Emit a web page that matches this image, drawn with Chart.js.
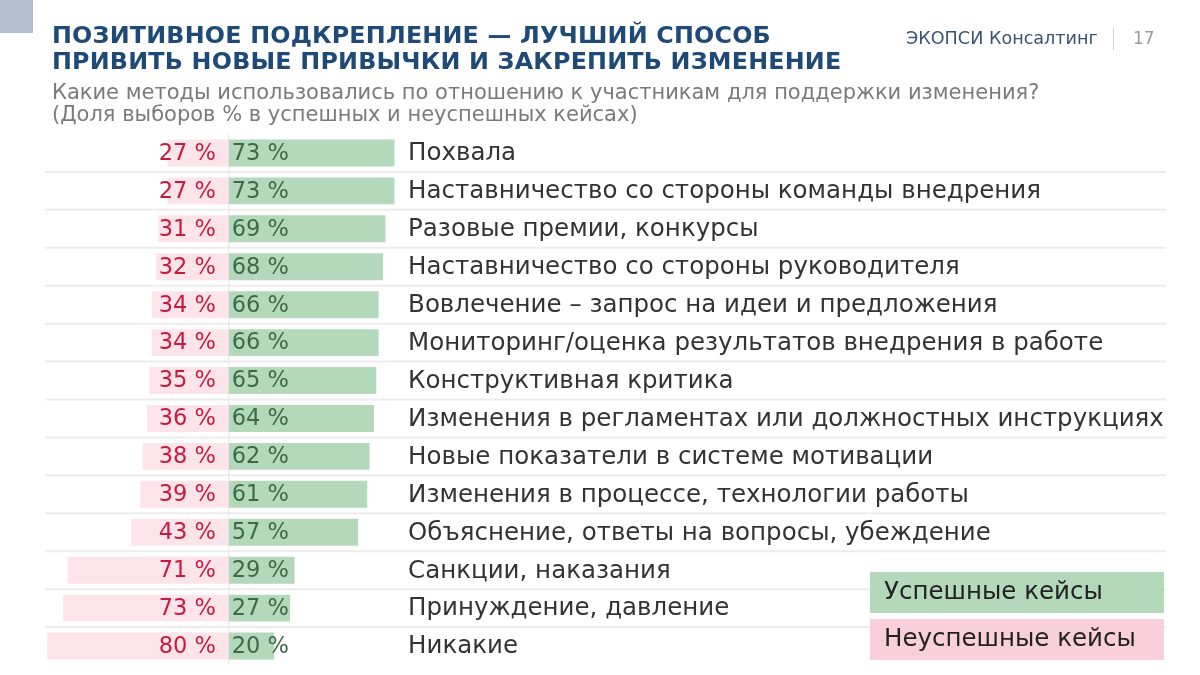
<!DOCTYPE html>
<html lang="ru">
<head>
<meta charset="UTF-8">
<title>Позитивное подкрепление</title>
<script src="https://cdn.jsdelivr.net/npm/chart.js"></script>
<style>
  body { margin: 0; background: #fff; font-family: "DejaVu Sans", sans-serif; }
  #wrap { position: relative; width: 1200px; height: 675px; overflow: hidden; }
  #chart { position: absolute; left: 0; top: 0; }
  .corner { position: absolute; left: 0; top: 0; width: 33px; height: 33px; background: #b2bfcd; }
  .title { position: absolute; left: 52px; top: 22px; font-weight: bold; font-size: 23.8px; line-height: 26px; color: #1f4a78; letter-spacing: 0.2px; }
  .sub { position: absolute; left: 52px; top: 81px; font-size: 21px; line-height: 22px; color: #7a7a7a; }
  .brand { position: absolute; left: 906px; top: 28px; font-size: 17.6px; color: #3a5372; }
  .bar { position: absolute; left: 1113px; top: 28px; width: 1px; height: 22px; background: #d0d0d0; }
  .page { position: absolute; left: 1133px; top: 28px; font-size: 17px; color: #9a9a9a; }
</style>
</head>
<body>
<div id="wrap">
  <canvas id="chart" width="1200" height="675"></canvas>
  <div class="corner"></div>
  <div class="title">ПОЗИТИВНОЕ ПОДКРЕПЛЕНИЕ — ЛУЧШИЙ СПОСОБ<br>ПРИВИТЬ НОВЫЕ ПРИВЫЧКИ И ЗАКРЕПИТЬ ИЗМЕНЕНИЕ</div>
  <div class="sub">Какие методы использовались по отношению к участникам для поддержки изменения?<br>(Доля выборов % в успешных и неуспешных кейсах)</div>
  <div class="brand">ЭКОПСИ Консалтинг</div>
  <div class="bar"></div>
  <div class="page">17</div>
</div>
<script>
// данные
const categories = [
  'Похвала',
  'Наставничество со стороны команды внедрения',
  'Разовые премии, конкурсы',
  'Наставничество со стороны руководителя',
  'Вовлечение – запрос на идеи и предложения',
  'Мониторинг/оценка результатов внедрения в работе',
  'Конструктивная критика',
  'Изменения в регламентах или должностных инструкциях',
  'Новые показатели в системе мотивации',
  'Изменения в процессе, технологии работы',
  'Объяснение, ответы на вопросы, убеждение',
  'Санкции, наказания',
  'Принуждение, давление',
  'Никакие'
];
const successful = [73, 73, 69, 68, 66, 66, 65, 64, 62, 61, 57, 29, 27, 20];
const unsuccessful = [27, 27, 31, 32, 34, 34, 35, 36, 38, 39, 43, 71, 73, 80];
const legendLabels = ['Успешные кейсы', 'Неуспешные кейсы'];

const GREEN = '#b3d9ba';
const PINK = '#fde4eb';
const PINK_LEGEND = '#f9cfdb';

// подписи, разделители и легенда
const extras = {
  id: 'extras',
  beforeDatasetsDraw(chart) {
    const { ctx, chartArea } = chart;
    const y = chart.scales.y, x = chart.scales.x;
    ctx.save();
    ctx.strokeStyle = '#ececec';
    ctx.lineWidth = 2;
    for (let i = 0; i < categories.length - 1; i++) {
      const yy = (y.getPixelForValue(i) + y.getPixelForValue(i + 1)) / 2;
      ctx.beginPath();
      ctx.moveTo(chartArea.left, yy);
      ctx.lineTo(chartArea.right, yy);
      ctx.stroke();
    }
    const x0 = x.getPixelForValue(0);
    ctx.strokeStyle = '#e4e4e4';
    ctx.lineWidth = 1;
    ctx.beginPath();
    ctx.moveTo(x0, chartArea.top);
    ctx.lineTo(x0, chartArea.bottom);
    ctx.stroke();
    ctx.restore();
  },
  afterDatasetsDraw(chart) {
    const { ctx } = chart;
    const y = chart.scales.y, x = chart.scales.x;
    const x0 = x.getPixelForValue(0);
    ctx.save();
    ctx.textBaseline = 'middle';
    categories.forEach((c, i) => {
      const yy = y.getPixelForValue(i) + 1;
      ctx.font = '22.5px "DejaVu Sans"';
      ctx.textAlign = 'right';
      ctx.fillStyle = '#c8193f';
      ctx.fillText(unsuccessful[i] + ' %', x0 - 13, yy);
      ctx.textAlign = 'left';
      ctx.fillStyle = '#3c6a48';
      ctx.fillText(successful[i] + ' %', x0 + 3, yy);
      ctx.font = '24.5px "DejaVu Sans"';
      ctx.fillStyle = '#333333';
      ctx.fillText(c, x.getPixelForValue(79), yy);
    });
    // легенда
    const boxes = [[GREEN, 572], [PINK_LEGEND, 619]];
    boxes.forEach((b, i) => {
      ctx.fillStyle = b[0];
      ctx.fillRect(870, b[1], 294, 41);
      ctx.fillStyle = '#222222';
      ctx.font = '24.5px "DejaVu Sans"';
      ctx.textAlign = 'left';
      ctx.fillText(legendLabels[i], 884, b[1] + 21);
    });
    ctx.restore();
  }
};

new Chart(document.getElementById('chart'), {
  type: 'bar',
  data: {
    labels: categories,
    datasets: [
      { label: legendLabels[0], data: successful, backgroundColor: GREEN, barPercentage: 0.71, categoryPercentage: 1 },
      { label: legendLabels[1], data: unsuccessful.map(v => -v), backgroundColor: PINK, barPercentage: 0.71, categoryPercentage: 1 }
    ]
  },
  options: {
    indexAxis: 'y',
    responsive: false,
    animation: false,
    layout: { padding: { left: 45, right: 34, top: 134, bottom: 10 } },
    scales: {
      x: { display: false, stacked: true, min: -81, max: 413 },
      y: { display: false, stacked: true }
    },
    plugins: { legend: { display: false }, tooltip: { enabled: false } }
  },
  plugins: [extras]
});
</script>
</body>
</html>
